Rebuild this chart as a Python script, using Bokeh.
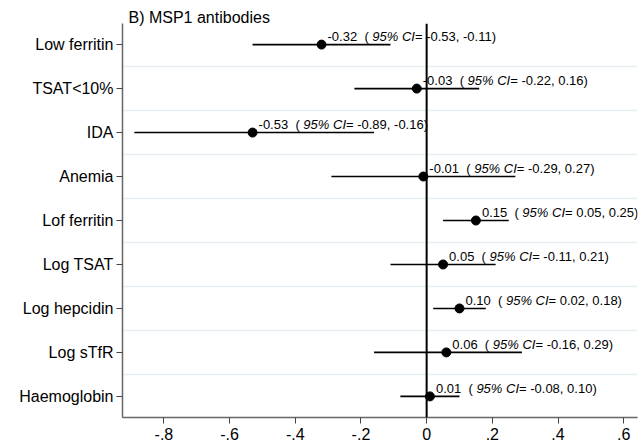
from bokeh.plotting import figure
from bokeh.models import Range1d, FixedTicker, Span, ColumnDataSource
from bokeh.embed import file_html
from bokeh.resources import INLINE
from bokeh.core.properties import value

# Effect estimates with 95% confidence intervals
outcomes = ["Low ferritin", "TSAT<10%", "IDA", "Anemia", "Lof ferritin",
            "Log TSAT", "Log hepcidin", "Log sTfR", "Haemoglobin"]
estimates = [-0.32, -0.03, -0.53, -0.01, 0.15, 0.05, 0.10, 0.06, 0.01]
ci_low = [-0.53, -0.22, -0.89, -0.29, 0.05, -0.11, 0.02, -0.16, -0.08]
ci_high = [-0.11, 0.16, -0.16, 0.27, 0.25, 0.21, 0.18, 0.29, 0.10]
x_ticks = [-0.8, -0.6, -0.4, -0.2, 0.0, 0.2, 0.4, 0.6]
x_tick_labels = ["-.8", "-.6", "-.4", "-.2", "0", ".2", ".4", ".6"]
title_text = "B) MSP1 antibodies"

FONT = "Liberation Sans"
LABEL_PX = 13
NBSP = "\u00a0"

# Arial / Liberation Sans advance widths (per 1000 em) for the characters used
ADV = {str(d): 556 for d in range(10)}
ADV.update({"-": 333, ".": 278, ",": 278, NBSP: 278, "(": 333, ")": 333,
            "%": 889, "C": 722, "I": 278, "=": 584})


def text_width(s, size):
    return sum(ADV[c] for c in s) * size / 1000.0


def keep_spaces(s):
    # SVG collapses ordinary runs of spaces, so use non-breaking ones
    return s.replace(" ", NBSP)


rows = list(range(1, len(outcomes) + 1))

part1, part2, part3, off1, off2, off3 = [], [], [], [], [], []
for est, lo, hi in zip(estimates, ci_low, ci_high):
    a = keep_spaces(f"{est:.2f}  (")
    b = keep_spaces(" 95% CI")
    c = keep_spaces(f"= {lo:.2f}, {hi:.2f})")
    x0 = 6.0
    part1.append(a)
    part2.append(b)
    part3.append(c)
    off1.append(x0)
    off2.append(x0 + text_width(a, LABEL_PX))
    off3.append(x0 + text_width(a, LABEL_PX) + text_width(b, LABEL_PX))

src = ColumnDataSource(dict(
    y=rows, est=estimates, lo=ci_low, hi=ci_high,
    part1=part1, part2=part2, part3=part3,
    off1=off1, off2=off2, off3=off3,
))

p = figure(width=642, height=444,
           x_range=Range1d(-0.926, 0.642),
           y_range=Range1d(len(outcomes) + 0.48, 0.52),
           output_backend="svg", toolbar_location=None,
           min_border_left=122, min_border_right=5,
           min_border_top=23, min_border_bottom=27)
p.background_fill_color = "white"
p.border_fill_color = "white"
p.outline_line_color = None

p.title.text = title_text
p.title.align = "left"
p.title.offset = 6
p.title.standoff = -5
p.title.text_font = FONT
p.title.text_font_size = "16px"
p.title.text_font_style = "normal"
p.title.text_color = "black"

# grid lines sit between the outcome rows
p.xgrid.visible = False
p.ygrid.ticker = FixedTicker(ticks=[r + 0.5 for r in rows[:-1]])
p.ygrid.grid_line_color = "#e6eef2"
p.ygrid.grid_line_width = 1.5

# y axis with outcome names
p.yaxis.ticker = FixedTicker(ticks=rows)
p.yaxis.major_label_overrides = {r: name for r, name in zip(rows, outcomes)}
p.yaxis.minor_tick_line_color = None
p.yaxis.major_tick_in = 0
p.yaxis.major_tick_out = 6
p.yaxis.major_label_standoff = 3
p.yaxis.axis_line_color = "#666666"
p.yaxis.axis_line_width = 1.5
p.yaxis.major_tick_line_color = "#444444"
p.yaxis.major_label_text_font = FONT
p.yaxis.major_label_text_font_size = "16px"
p.yaxis.major_label_text_color = "black"

# x axis
p.xaxis.ticker = FixedTicker(ticks=x_ticks)
p.xaxis.major_label_overrides = {t: l for t, l in zip(x_ticks, x_tick_labels)}
p.xaxis.minor_tick_line_color = None
p.xaxis.major_tick_in = 0
p.xaxis.major_tick_out = 6
p.xaxis.major_label_standoff = 4
p.xaxis.axis_line_color = "#666666"
p.xaxis.axis_line_width = 1.5
p.xaxis.major_tick_line_color = "#444444"
p.xaxis.major_label_text_font = FONT
p.xaxis.major_label_text_font_size = "16px"
p.xaxis.major_label_text_color = "black"

# confidence intervals and point estimates
p.segment(x0="lo", y0="y", x1="hi", y1="y", source=src,
          line_color="black", line_width=1.6)
p.add_layout(Span(location=0, dimension="height", line_color="black",
                  line_width=2))
p.scatter(x="est", y="y", source=src, size=9, marker="circle",
          fill_color="black", line_color="black")

# estimate labels sit just above the interval line: plain / italic / plain
common = dict(source=src, text_font=value(FONT), text_font_size=f"{LABEL_PX}px",
              text_color="black", text_baseline="alphabetic", text_align="left",
              y_offset=-8)
p.text(x="est", y="y", text="part1", x_offset="off1", **common)
p.text(x="est", y="y", text="part2", x_offset="off2", text_font_style="italic",
       **common)
p.text(x="est", y="y", text="part3", x_offset="off3", **common)

open("out.html", "w").write(file_html(p, INLINE))
